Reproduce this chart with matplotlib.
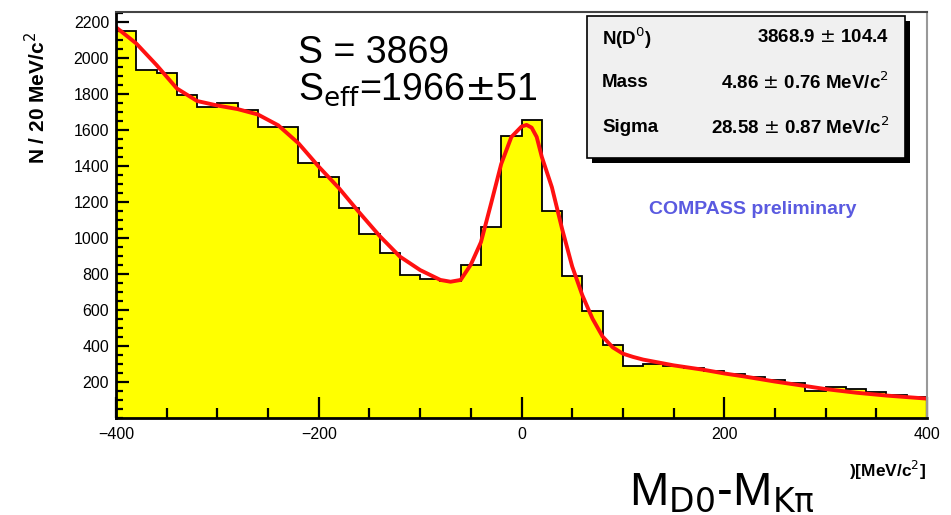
import numpy as np
import matplotlib.pyplot as plt
from matplotlib.patches import Rectangle

# histogram, 20 MeV bins from -400 to 400
bin_lo = -400
bin_w = 20
counts = [2150, 1930, 1915, 1795, 1725, 1750, 1710, 1615, 1615, 1415,
          1340, 1165, 1020, 915, 790, 770, 760, 850, 1060, 1565,
          1655, 1150, 785, 595, 405, 285, 300, 285, 275, 260,
          240, 225, 210, 190, 145, 170, 160, 140, 125, 115]

# fit curve
fit_x = [-400, -380, -360, -340, -320, -300, -280, -260, -240, -220,
         -200, -180, -160, -140, -120, -100, -80, -70, -60, -50,
         -40, -30, -20, -10, 0, 5, 10, 15, 20, 30,
         40, 50, 60, 70, 80, 90, 100, 110, 120, 150, 180,
         200, 220, 250, 280, 300, 330, 360, 400]
fit_y = [2170, 2080, 1960, 1830, 1760, 1735, 1715, 1685, 1625, 1525,
         1395, 1275, 1140, 1010, 895, 820, 765, 755, 765, 850,
         975, 1190, 1410, 1560, 1618, 1627, 1612, 1560, 1450, 1280,
         1050, 840, 680, 550, 450, 390, 355, 337, 322, 290, 265,
         245, 228, 200, 175, 158, 138, 122, 105]

yticks = [200, 400, 600, 800, 1000, 1200, 1400, 1600, 1800, 2000, 2200]
xticks = [-400, -200, 0, 200, 400]

stat_names = ["N(D$^0$)", "Mass", "Sigma"]
stat_vals = ["3868.9 $\\pm$ 104.4", "4.86 $\\pm$ 0.76 MeV/c$^2$", "28.58 $\\pm$ 0.87 MeV/c$^2$"]

W, H = 951, 515
def fx(x):
    return x / W
def fy(y):
    return 1 - y / H

plt.rcParams['font.family'] = ['Liberation Sans', 'DejaVu Sans']
plt.rcParams['mathtext.fontset'] = 'dejavusans'

fig = plt.figure(figsize=(W / 100, H / 100), dpi=100)
ax = fig.add_axes([fx(116), fy(417.5), fx(927) - fx(116), fy(12) - fy(417.5)])

edges = bin_lo + bin_w * np.arange(len(counts) + 1)
ax.stairs(counts, edges, fill=True, color='#ffff00', baseline=0)
ax.stairs(counts, edges, color='black', lw=1.3, baseline=0)
ax.plot(fit_x, fit_y, color='#ff1010', lw=2.8, solid_capstyle='round', solid_joinstyle='round')

ax.set_xlim(-400, 400)
ax.set_ylim(0, 2255)
ax.set_xticks(xticks)
ax.set_xticks(np.arange(-400, 401, 50), minor=True)
ax.set_yticks(yticks)
ax.set_yticks(np.arange(0, 2251, 50), minor=True)
ax.tick_params(axis='both', which='both', direction='in', colors='black', width=1.6)
ax.tick_params(axis='x', which='major', length=15, pad=7, labelsize=11.5)
ax.tick_params(axis='x', which='minor', length=7)
ax.tick_params(axis='y', which='major', length=9, pad=5, labelsize=11.5)
ax.tick_params(axis='y', which='minor', length=5)
ax.spines['left'].set_linewidth(2)
ax.spines['bottom'].set_linewidth(2)
ax.spines['top'].set_color('#444444')
ax.spines['top'].set_linewidth(1.5)
ax.spines['right'].set_color('#999999')
ax.spines['right'].set_linewidth(1.5)

fig.text(fx(37), fy(98), "N / 20 MeV/c$^2$", rotation=90, ha='center', va='center',
         fontsize=15, fontweight='bold')
fig.text(fx(926), fy(470), ")[MeV/c$^2$]", ha='right', va='center', fontsize=12.5, fontweight='bold')

fig.text(fx(298), fy(63), "S = 3869", fontsize=27, ha='left', va='baseline')
fig.text(fx(298), fy(100), "S$_{\\rm eff}$=1966$\\pm$51", fontsize=27, ha='left', va='baseline')
fig.text(fx(722), fy(505), "M$_{\\rm D0}$-M$_{\\rm K\\pi}$", fontsize=34, ha='center', va='baseline')

# stats box with shadow
fig.add_artist(Rectangle((fx(592), fy(163)), fx(905) - fx(587), fy(16) - fy(158),
                         transform=fig.transFigure, facecolor='black', edgecolor='none'))
fig.add_artist(Rectangle((fx(587), fy(158)), fx(905) - fx(587), fy(16) - fy(158),
                         transform=fig.transFigure, facecolor='#f0f0f0', edgecolor='black', lw=1.2))
for i in range(len(stat_names)):
    yy = 38 + 44.5 * i
    fig.text(fx(602), fy(yy), stat_names[i], fontsize=13.5, fontweight='bold', ha='left', va='center')
    fig.text(fx(889), fy(yy), stat_vals[i], fontsize=13.5, fontweight='bold', ha='right', va='center')

fig.text(fx(753), fy(210), "COMPASS preliminary", color='#5a5ae0', fontsize=14,
         fontweight='bold', ha='center', va='center')

fig.savefig("out.png", dpi=100)
